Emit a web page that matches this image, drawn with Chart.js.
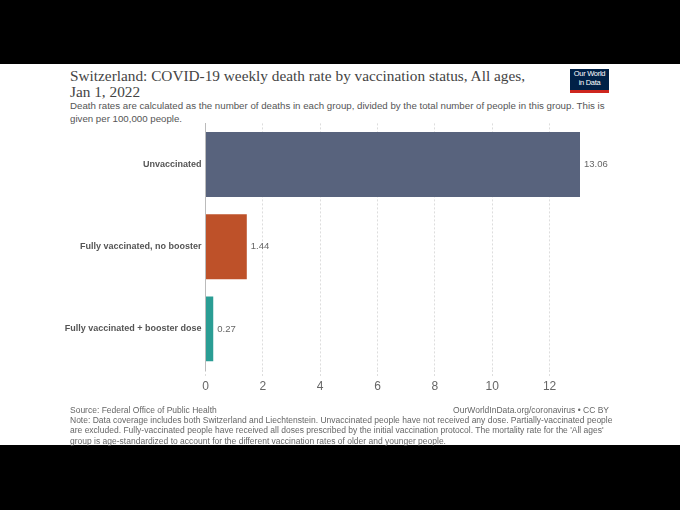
<!DOCTYPE html>
<html>
<head>
<meta charset="utf-8">
<script src="https://cdn.jsdelivr.net/npm/chart.js@4"></script>
<style>
  html, body { margin: 0; padding: 0; background: #000; }
  body { width: 680px; height: 510px; position: relative; overflow: hidden; }
  #panel { position: absolute; left: 0; top: 64px; width: 680px; height: 381px; background: #fff; }
  #title { position: absolute; left: 70px; top: 4px; font-family: "Liberation Serif", "DejaVu Serif", serif; font-size: 15.3px; line-height: 16px; color: #444; white-space: nowrap; }
  #subtitle { position: absolute; left: 70px; top: 35px; font-family: "Liberation Sans", Arial, sans-serif; font-size: 9.7px; line-height: 13px; color: #555; white-space: nowrap; }
  #logo { position: absolute; left: 570px; top: 5px; width: 39px; height: 20px; background: #002147; border-bottom: 3px solid #ce261e; color: #fff; font-family: "Liberation Sans", Arial, sans-serif; font-size: 7.5px; line-height: 8.5px; text-align: center; padding-top: 1px; letter-spacing: -0.3px; }
  #chartBox { position: absolute; left: 0; top: 50px; width: 630px; height: 294px; }
  #source { position: absolute; left: 70px; top: 341px; width: 540px; font-family: "Liberation Sans", Arial, sans-serif; font-size: 8.5px; line-height: 10.2px; color: #666; white-space: nowrap; }
  #source .right { position: absolute; right: 1px; top: 0; }
</style>
</head>
<body>
<div id="panel">
  <div id="title">Switzerland: COVID-19 weekly death rate by vaccination status, All ages,<br>Jan 1, 2022</div>
  <div id="logo">Our World<br>in Data</div>
  <div id="subtitle">Death rates are calculated as the number of deaths in each group, divided by the total number of people in this group. This is<br>given per 100,000 people.</div>
  <div id="chartBox"><canvas id="deathRateChart"></canvas></div>
  <div id="source">
    <div>Source: Federal Office of Public Health</div>
    <div class="right">OurWorldInData.org/coronavirus • CC BY</div>
    <div>Note: Data coverage includes both Switzerland and Liechtenstein. Unvaccinated people have not received any dose. Partially-vaccinated people<br>are excluded. Fully-vaccinated people have received all doses prescribed by the initial vaccination protocol. The mortality rate for the 'All ages'<br>group is age-standardized to account for the different vaccination rates of older and younger people.</div>
  </div>
</div>
<script>
// 接種状況別の週間死亡率 (10万人あたり)
const statusLabels = ['Unvaccinated', 'Fully vaccinated, no booster', 'Fully vaccinated + booster dose'];
const deathRates = [13.06, 1.44, 0.27];
const barColors = ['#58637d', '#be5129', '#2a9d94'];
const xTicks = [0, 2, 4, 6, 8, 10, 12];

// バーの右に値を表示
const valueLabelPlugin = {
    id: 'valueLabels',
    afterDatasetsDraw: function (chart) {
        const ctx = chart.ctx;
        const meta = chart.getDatasetMeta(0);
        ctx.save();
        ctx.font = '9.5px "Liberation Sans", Arial, sans-serif';
        ctx.fillStyle = '#666';
        ctx.textAlign = 'left';
        ctx.textBaseline = 'middle';
        meta.data.forEach(function (bar, i) {
            ctx.fillText(deathRates[i].toFixed(2), bar.x + 4, bar.y);
        });
        ctx.restore();
    }
};

const ctxRates = document.getElementById('deathRateChart').getContext('2d');
new Chart(ctxRates, {
    type: 'bar',
    data: {
        labels: statusLabels,
        datasets: [{
            label: 'Weekly death rate',
            data: deathRates,
            backgroundColor: barColors,
            borderWidth: 0,
            barPercentage: 0.79,
            categoryPercentage: 1.0
        }]
    },
    options: {
        indexAxis: 'y',
        responsive: true,
        maintainAspectRatio: false,
        animation: false,
        layout: { padding: { top: 2, right: 50, bottom: 8, left: 0 } },
        scales: {
            x: {
                min: 0,
                max: Math.max(...deathRates),
                afterBuildTicks: function (scale) {
                    scale.ticks = xTicks.map(function (v) { return { value: v }; });
                },
                afterFit: function (scale) { scale.height = 30; },
                grid: {
                    color: '#dddddd',
                    lineWidth: 1,
                    drawTicks: true,
                    tickLength: 7,
                    tickColor: '#dddddd',
                    tickBorderDash: [2, 2]
                },
                border: { display: false, dash: [2, 2] },
                ticks: {
                    color: '#666',
                    padding: 2,
                    font: { family: '"Liberation Sans", Arial, sans-serif', size: 12 }
                }
            },
            y: {
                afterFit: function (scale) { scale.width = 205.5; },
                grid: { display: false, drawTicks: false },
                border: { display: true, color: '#bbbbbb', width: 1 },
                ticks: {
                    color: '#555',
                    padding: 4,
                    font: { family: '"Liberation Sans", Arial, sans-serif', size: 9, weight: 'bold' }
                }
            }
        },
        plugins: {
            legend: { display: false },
            tooltip: { enabled: false }
        }
    },
    plugins: [valueLabelPlugin]
});
</script>
</body>
</html>
